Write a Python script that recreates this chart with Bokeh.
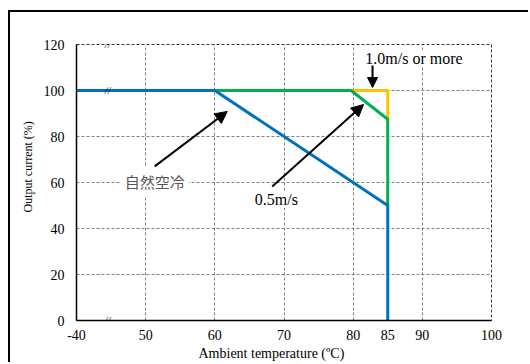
from bokeh.plotting import figure
from bokeh.models import Arrow, NormalHead, Label, FixedTicker, InlineStyleSheet, Title
from bokeh.core.properties import value
from bokeh.embed import file_html
from bokeh.resources import INLINE

# Data (x=40 represents -40 on the broken axis)
natural_x = [40, 60, 85, 85]
natural_y = [100, 100, 50, 0]
air05_x = [60, 79.7, 85, 85]
air05_y = [100, 100, 87.5, 50]
air10_x = [79.7, 85, 85]
air10_y = [100, 100, 87.5]

x_ticks = [40, 50, 60, 70, 80, 85, 90, 100]
x_tick_labels = {40: "-40"}
x_grid = [50, 60, 70, 80, 90]
y_ticks = [0, 20, 40, 60, 80, 100, 120]
y_grid = [20, 40, 60, 80, 100]
break_x = [44.5, 44.5, 44.5]
break_y = [120, 100, 0]

SERIF = "'Liberation Serif', 'Times New Roman', serif"

p = figure(width=520, height=352, output_backend="svg", toolbar_location=None,
           x_range=(40, 100), y_range=(0, 120),
           min_border_left=66, min_border_top=32, min_border_right=39, min_border_bottom=44)
p.stylesheets = [InlineStyleSheet(css=":host { margin-left: 8px; margin-top: 10px; "
                                      "border-left: 2px solid #000; border-top: 2px solid #000; }")]

p.outline_line_color = "#333333"
p.outline_line_dash = "3 2"
p.outline_line_width = 1

p.xaxis.ticker = FixedTicker(ticks=x_ticks)
p.xaxis.major_label_overrides = x_tick_labels
p.yaxis.ticker = FixedTicker(ticks=y_ticks)
p.xgrid.ticker = FixedTicker(ticks=x_grid)
p.ygrid.ticker = FixedTicker(ticks=y_grid)
for g in (p.xgrid, p.ygrid):
    g.grid_line_color = "#808080"
    g.grid_line_dash = "3 2"
    g.grid_line_width = 1

for ax in (p.xaxis, p.yaxis):
    ax.major_tick_out = 0
    ax.major_tick_in = 0
    ax.minor_tick_out = 0
    ax.minor_tick_in = 0
    ax.axis_line_color = "black"
    ax.axis_line_width = 1.5
    ax.major_label_text_font = SERIF
    ax.major_label_text_font_size = "14px"
    ax.major_label_text_color = "black"

p.xaxis.major_label_standoff = 9
p.yaxis.major_label_standoff = 12

p.add_layout(Title(text="Ambient temperature (ºC)", align="left", offset=122, standoff=3,
                   text_font=SERIF, text_font_size="14px", text_font_style="normal",
                   text_color="black"), "below")
p.add_layout(Title(text="Output current (%)", align="left", offset=108, standoff=12,
                   text_font=SERIF, text_font_size="12px", text_font_style="normal",
                   text_color="black"), "left")

p.line(air10_x, air10_y, color="#FFC000", line_width=3)
p.line(air05_x, air05_y, color="#00B050", line_width=3)
p.line(natural_x, natural_y, color="#0070C0", line_width=3)

p.text(x=break_x, y=break_y, text=["//"] * 3, text_font=value(SERIF),
       text_font_size="10px", text_font_style="italic", text_align="center",
       text_baseline="middle", text_color="black")

# Annotations
p.add_layout(Label(x=51.3, y=60.4, text="自然空冷", text_font="Noto Sans CJK JP",
                   text_font_size="15px", text_color="#555555", text_align="center",
                   text_baseline="middle", background_fill_color="white",
                   padding=4))
p.add_layout(Arrow(x_start=51.3, y_start=67, x_end=61.8, y_end=90.9, line_width=2,
                   line_color="black",
                   end=NormalHead(size=12, fill_color="black", line_color="black")))

p.add_layout(Label(x=68.9, y=52.6, text="0.5m/s", text_font=SERIF,
                   text_font_size="16px", text_color="black", text_align="center",
                   text_baseline="middle", background_fill_color="white"))
p.add_layout(Arrow(x_start=68.3, y_start=58.3, x_end=81.5, y_end=93.9, line_width=2,
                   line_color="black",
                   end=NormalHead(size=12, fill_color="black", line_color="black")))

p.add_layout(Label(x=88.8, y=113.9, text="1.0m/s or more", text_font=SERIF,
                   text_font_size="16px", text_color="black", text_align="center",
                   text_baseline="middle", background_fill_color="white"))
p.add_layout(Arrow(x_start=82.8, y_start=110.9, x_end=82.8, y_end=101.3, line_width=2,
                   line_color="black",
                   end=NormalHead(size=10, fill_color="black", line_color="black")))

open("out.html", "w").write(file_html(p, INLINE))
